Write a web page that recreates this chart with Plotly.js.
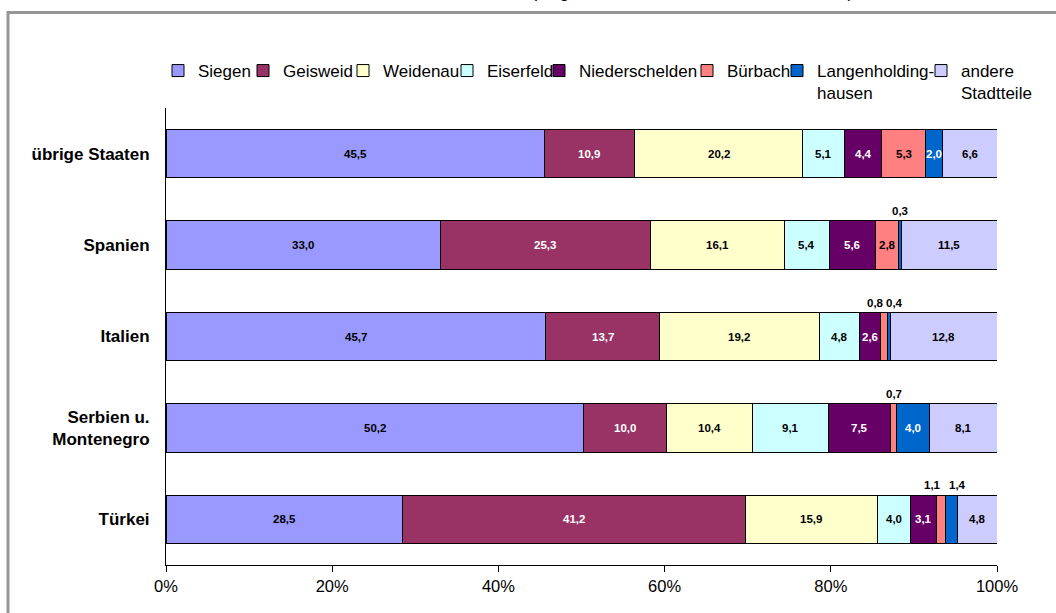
<!DOCTYPE html>
<html>
<head>
<meta charset="utf-8">
<script src="https://cdn.plot.ly/plotly-3.0.1.min.js"></script>
<style>html,body{margin:0;padding:0;background:#fff;}#chart{width:1056px;height:613px;}</style>
</head>
<body>
<div id="chart"></div>
<script>
const categories = ["übrige Staaten", "Spanien", "Italien", "Serbien u.<br>Montenegro", "Türkei"];
const seriesNames = ["Siegen", "Geisweid", "Weidenau", "Eiserfeld", "Niederschelden", "Bürbach", "Langenholding-<br>hausen", "andere<br>Stadtteile"];
const siegen         = [45.5, 33.0, 45.7, 50.2, 28.5];
const geisweid       = [10.9, 25.3, 13.7, 10.0, 41.2];
const weidenau       = [20.2, 16.1, 19.2, 10.4, 15.9];
const eiserfeld      = [5.1, 5.4, 4.8, 9.1, 4.0];
const niederschelden = [4.4, 5.6, 2.6, 7.5, 3.1];
const buerbach       = [5.3, 2.8, 0.8, 0.7, 1.1];
const langenholding  = [2.0, 0.3, 0.4, 4.0, 1.4];
const andere         = [6.6, 11.5, 12.8, 8.1, 4.8];
const xTickValues = [0, 20, 40, 60, 80, 100];
const titleText = "Ausländer nach Stadtteilen, 31.12.2006 (Angaben in Prozent, Stand 31.12.2006)";

const series = [siegen, geisweid, weidenau, eiserfeld, niederschelden, buerbach, langenholding, andere];
const colors = ["#9999FF", "#993366", "#FFFFCC", "#CCFFFF", "#660066", "#FF8080", "#0066CC", "#CCCCFF"];
const labelColors = ["#000", "#fff", "#000", "#000", "#fff", "#000", "#fff", "#000"];
const legendX = [170, 255, 355, 459, 551, 699, 789, 933];

const W = 1056, H = 613, ML = 166, MR = 59, MT = 108, MB = 48;
const PW = W - ML - MR, PH = H - MT - MB;
const px2x = p => (p - ML) / PW;
const py2y = p => (H - MB - p) / PH;

const traces = series.map((vals, i) => ({
  type: 'bar', orientation: 'h', name: seriesNames[i],
  y: categories, x: vals,
  marker: {color: colors[i], line: {color: '#000', width: 1}},
  hoverinfo: 'skip',
  legend: i === 0 ? 'legend' : 'legend' + (i + 1)
}));

const annotations = [];
categories.forEach((cat, r) => {
  let cum = 0;
  let prevSmall = null;
  series.forEach((vals, i) => {
    const v = vals[r];
    const small = v < 1.5;
    const a = {
      x: cum + v / 2, y: cat, xref: 'x', yref: 'y', showarrow: false,
      text: v.toFixed(1).replace('.', ','),
      font: {family: 'Arial, Liberation Sans, sans-serif', size: 11.5, color: small ? '#000' : labelColors[i], weight: 'bold'}
    };
    if (small) {
      a.yshift = 34;
      if (prevSmall) { prevSmall.xshift = -8; a.xshift = 6; }
      prevSmall = a;
    } else prevSmall = null;
    annotations.push(a);
    cum += v;
  });
});

annotations.push({
  text: titleText, showarrow: false,
  xref: 'paper', yref: 'paper', x: px2x(532), y: py2y(3),
  xanchor: 'center', yanchor: 'bottom',
  font: {family: 'Arial, Liberation Sans, sans-serif', size: 18, color: '#000'}
});

const layout = {
  width: W, height: H,
  margin: {l: ML, r: MR, t: MT, b: MB, pad: 0},
  paper_bgcolor: '#fff', plot_bgcolor: '#fff',
  barmode: 'stack', bargap: 0.47,
  showlegend: true,
  font: {family: 'Arial, Liberation Sans, sans-serif', color: '#000'},
  xaxis: {
    range: [0, 100], tickvals: xTickValues, ticktext: xTickValues.map(v => v + '%'),
    showgrid: false, zeroline: false, showline: true, linecolor: '#000', linewidth: 1,
    ticks: 'outside', ticklen: 6, tickcolor: '#000', tickwidth: 1,
    tickfont: {family: 'Arial, Liberation Sans, sans-serif', size: 16.5, color: '#000'},
    fixedrange: true
  },
  yaxis: {
    type: 'category', categoryorder: 'array', categoryarray: categories,
    autorange: 'reversed', range: [4.5, -0.5],
    showgrid: false, zeroline: false, showline: true, linecolor: '#000', linewidth: 1,
    ticks: '', ticklabelstandoff: 12,
    tickfont: {family: 'Arial, Liberation Sans, sans-serif', size: 17, color: '#000', weight: 'bold'},
    fixedrange: true
  },
  annotations: annotations,
  shapes: [{
    type: 'rect', xref: 'paper', yref: 'paper',
    x0: px2x(8), x1: px2x(1300), y0: py2y(800), y1: py2y(12.5),
    line: {color: '#969696', width: 3}, fillcolor: 'rgba(0,0,0,0)', layer: 'below'
  }]
};

seriesNames.forEach((n, i) => {
  const key = i === 0 ? 'legend' : 'legend' + (i + 1);
  layout[key] = {
    x: px2x(legendX[i] - 12), xanchor: 'left', xref: 'paper',
    y: py2y(53), yanchor: 'top', yref: 'paper',
    orientation: 'h', valign: 'top', bgcolor: 'rgba(0,0,0,0)', borderwidth: 0,
    font: {family: 'Arial, Liberation Sans, sans-serif', size: 17, color: '#000'},
    itemclick: false, itemdoubleclick: false
  };
});

Plotly.newPlot('chart', traces, layout, {displayModeBar: false, staticPlot: true});
</script>
</body>
</html>
